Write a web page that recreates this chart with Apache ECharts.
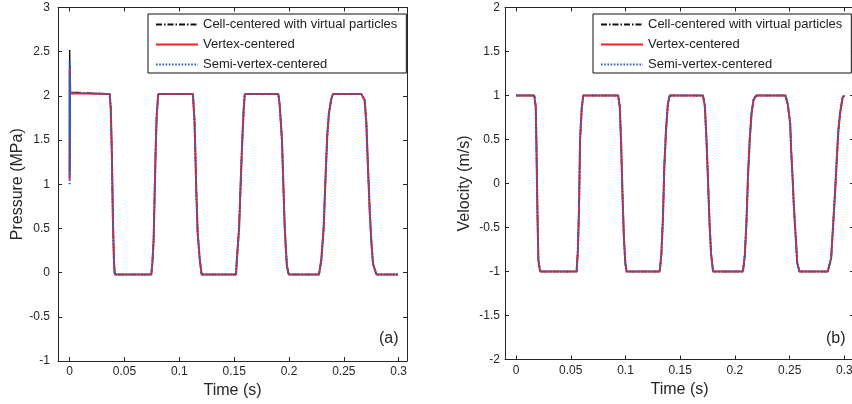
<!DOCTYPE html>
<html>
<head>
<meta charset="utf-8">
<script src="https://cdn.jsdelivr.net/npm/echarts@6/dist/echarts.min.js"></script>
<style>
html,body{margin:0;padding:0;background:#fff;}
#chart{width:852px;height:404px;}
</style>
</head>
<body>
<div id="chart"></div>
<script>
// ---------- data ----------
var seriesNames = ['Cell-centered with virtual particles', 'Vertex-centered', 'Semi-vertex-centered'];
var xTicks = [0, 0.05, 0.1, 0.15, 0.2, 0.25, 0.3];

// start-up spikes at t = 0 (pressure), per scheme
var pSpikeTimeCell   = [0, 0.00008, 0.00016, 0.00024, 0.00032, 0.0004, 0.0005];
var pSpikeCell       = [1.15, 2.52, 1.3, 2.35, 1.6, 2.2, 2.04];
var pSpikeTimeVertex = [0, 0.00008, 0.00016, 0.00024, 0.0004, 0.0005];
var pSpikeVertex     = [1.05, 2.3, 1.2, 2.2, 2.1, 2.03];
var pSpikeTimeSemi   = [0, 0.00008, 0.00016, 0.00024, 0.00032, 0.0004, 0.0005];
var pSpikeSemi       = [1.0, 2.4, 1.1, 2.25, 1.5, 2.15, 2.04];

// pressure (MPa) after the start-up (the three schemes coincide)
var pTime = [0.0009, 0.0365, 0.0375, 0.0385, 0.0395, 0.0405, 0.0412,
  0.0745, 0.0755, 0.0766, 0.0775, 0.0785, 0.0794, 0.0808,
  0.1124, 0.1139, 0.1155, 0.1167, 0.1185, 0.1203,
  0.1517, 0.1525, 0.1545, 0.1562, 0.1576, 0.1587, 0.1597,
  0.1903, 0.1915, 0.1936, 0.1951, 0.1960, 0.1970, 0.1981, 0.1997,
  0.2274, 0.2295, 0.2316, 0.2334, 0.2349, 0.2364, 0.2386, 0.2401,
  0.2660, 0.2690, 0.2705, 0.2720, 0.2736, 0.2751, 0.2766, 0.2797,
  0.2994];
var pValue = [2.02, 2.02, 1.86, 1.35, 0.57, 0.1, -0.02,
  -0.02, 0.12, 0.37, 0.88, 1.42, 1.78, 2.02,
  2.02, 1.71, 0.92, 0.46, 0.17, -0.02,
  -0.02, 0.15, 0.5, 1.1, 1.55, 1.85, 2.02,
  2.02, 1.9, 1.5, 0.9, 0.55, 0.3, 0.08, -0.02,
  -0.02, 0.15, 0.5, 1.1, 1.55, 1.8, 1.97, 2.02,
  2.02, 1.95, 1.7, 1.2, 0.7, 0.35, 0.1, -0.02,
  -0.02];

// velocity (m/s) (the three schemes coincide)
var vTime = [0, 0.0167, 0.0180, 0.0186, 0.0195, 0.0204, 0.0220,
  0.0553, 0.0565, 0.0575, 0.0585, 0.0600, 0.0614,
  0.0933, 0.0948, 0.0960, 0.0972, 0.0985, 0.0998, 0.1010,
  0.1313, 0.1328, 0.1342, 0.1355, 0.1370, 0.1387, 0.1404,
  0.1708, 0.1725, 0.1740, 0.1755, 0.1768, 0.1782, 0.1800,
  0.2073, 0.2090, 0.2105, 0.2120, 0.2135, 0.2152, 0.2170, 0.2195,
  0.2461, 0.2483, 0.2505, 0.2514, 0.2528, 0.2538, 0.2550, 0.2560, 0.2569, 0.2590,
  0.2848, 0.2879, 0.2893, 0.2915, 0.2933, 0.2945, 0.2961, 0.2984, 0.3000];
var vValue = [1.0, 1.0, 0.87, 0.46, -0.3, -0.87, -1.0,
  -1.0, -0.76, -0.3, 0.5, 0.85, 1.0,
  1.0, 0.87, 0.46, -0.1, -0.6, -0.9, -1.0,
  -1.0, -0.8, -0.4, 0.2, 0.6, 0.9, 1.0,
  1.0, 0.88, 0.5, 0.0, -0.45, -0.8, -1.0,
  -1.0, -0.82, -0.45, 0.1, 0.5, 0.8, 0.95, 1.0,
  1.0, 0.9, 0.68, 0.37, 0.04, -0.25, -0.5, -0.7, -0.9, -1.0,
  -1.0, -0.85, -0.56, -0.1, 0.33, 0.6, 0.8, 0.98, 1.0];

// ---------- build ----------
function pairs(t, v) { return t.map(function (x, i) { return [x, v[i]]; }); }
var pBase = pairs(pTime, pValue);
var pCell = pairs(pSpikeTimeCell, pSpikeCell).concat(pBase);
var pVertex = pairs(pSpikeTimeVertex, pSpikeVertex).concat(pBase);
var pSemi = pairs(pSpikeTimeSemi, pSpikeSemi).concat(pBase);
var vData = pairs(vTime, vValue);

var FONT = 'Liberation Sans, Arial, sans-serif';
var AX = '#262626';
var styles = [
  { color: '#111111', width: 1.5, type: [6, 2, 1.5, 2] },
  { color: '#f52020', width: 2, type: 'solid' },
  { color: '#2d5fbf', width: 2, type: [1.6, 1.6] }
];

function xAxisPair(grid, min, max) {
  var common = {
    type: 'value', gridIndex: grid, min: min, max: max,
    splitLine: { show: false },
    axisLine: { show: true, onZero: false, lineStyle: { color: AX, width: 1 } },
    axisTick: { show: true, inside: true, length: 4, customValues: xTicks, lineStyle: { color: AX } }
  };
  var bottom = Object.assign({}, common, {
    position: 'bottom',
    name: 'Time (s)', nameLocation: 'middle', nameGap: 22,
    nameTextStyle: { fontFamily: FONT, fontSize: 16, color: AX },
    axisLabel: { show: true, customValues: xTicks, margin: 5, fontFamily: FONT, fontSize: 12, color: AX,
      formatter: function (v) { return String(v); } }
  });
  var top = Object.assign({}, common, { position: 'top', axisLabel: { show: false } });
  return [bottom, top];
}
function yAxisPair(grid, min, max, name, gap, margin) {
  var common = {
    type: 'value', gridIndex: grid, min: min, max: max, interval: 0.5,
    splitLine: { show: false },
    axisLine: { show: true, onZero: false, lineStyle: { color: AX, width: 1 } },
    axisTick: { show: true, inside: true, length: 4, lineStyle: { color: AX } }
  };
  var left = Object.assign({}, common, {
    position: 'left',
    name: name, nameLocation: 'middle', nameGap: gap,
    nameTextStyle: { fontFamily: FONT, fontSize: 16, color: AX },
    axisLabel: { show: true, margin: margin, fontFamily: FONT, fontSize: 12, color: AX }
  });
  var right = Object.assign({}, common, { position: 'right', axisLabel: { show: false } });
  return [left, right];
}

var xA = xAxisPair(0, -0.0106, 0.3076).concat(xAxisPair(1, -0.0101, 0.3088));
var yA = yAxisPair(0, -1, 3, 'Pressure (MPa)', 29, 8).concat(yAxisPair(1, -2, 2, 'Velocity (m/s)', 32, 5));

function mkSeries(idx, grid, data) {
  return {
    type: 'line', name: seriesNames[idx], data: data,
    xAxisIndex: grid * 2, yAxisIndex: grid * 2,
    showSymbol: false, symbol: 'none', z: 2 + idx,
    lineStyle: { color: styles[idx].color, width: styles[idx].width, type: styles[idx].type, cap: 'butt' },
    itemStyle: { color: styles[idx].color }
  };
}
var series = [
  mkSeries(0, 0, pCell), mkSeries(1, 0, pVertex), mkSeries(2, 0, pSemi),
  mkSeries(0, 1, vData), mkSeries(1, 1, vData), mkSeries(2, 1, vData)
];

function legendAt(left) {
  return {
    data: seriesNames, orient: 'vertical', left: left, top: 14,
    itemWidth: 42, itemHeight: 14, itemGap: 7,
    padding: [4, 9, 2, 7],
    backgroundColor: '#fff', borderColor: '#111', borderWidth: 1, borderRadius: 0,
    itemStyle: { opacity: 0 },
    textStyle: { fontFamily: FONT, fontSize: 13, color: '#222' },
    selectedMode: false
  };
}

var chart = echarts.init(document.getElementById('chart'), null, { renderer: 'canvas' });
chart.setOption({
  animation: false,
  backgroundColor: '#fff',
  grid: [
    { left: 58, top: 7.5, width: 349, height: 353.5, show: false, outerBoundsMode: 'none', containLabel: false },
    { left: 505, top: 7.5, width: 349, height: 352, show: false, outerBoundsMode: 'none', containLabel: false }
  ],
  xAxis: xA,
  yAxis: yA,
  legend: [legendAt(148), legendAt(593)],
  series: series,
  graphic: [
    { type: 'text', left: 379, top: 331, style: { text: '(a)', font: '16px ' + FONT, fill: AX } },
    { type: 'text', left: 826, top: 331, style: { text: '(b)', font: '16px ' + FONT, fill: AX } }
  ]
});
</script>
</body>
</html>
